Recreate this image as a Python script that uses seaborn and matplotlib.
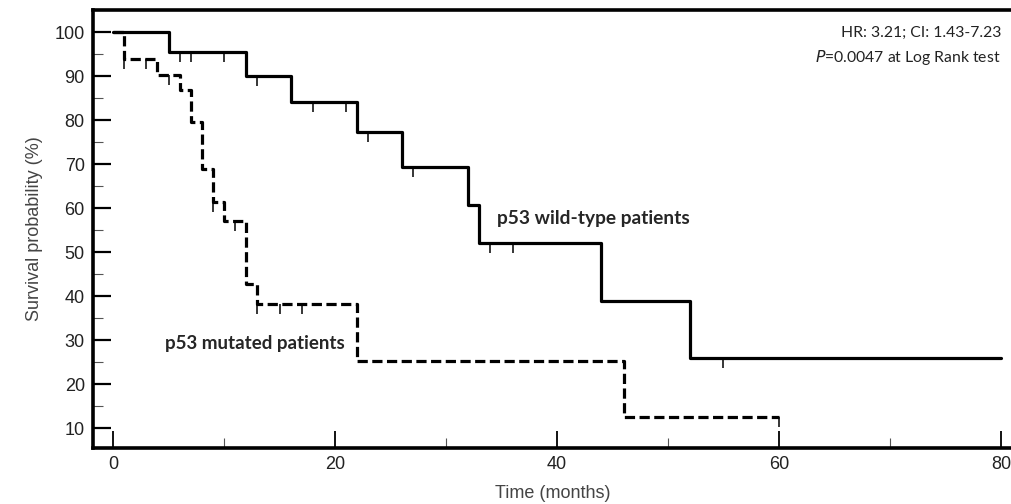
import numpy as np
import matplotlib
matplotlib.use("Agg")
import matplotlib.pyplot as plt
import seaborn as sns

# ---- data ----
# p53 wild-type (solid): step times (months) and survival (%) after each step
wt_time = [0, 5, 12, 16, 22, 26, 32, 33, 44, 52, 80]
wt_surv = [100, 95.5, 90.0, 84.2, 77.3, 69.4, 60.7, 52.0, 38.9, 26.0, 26.0]
wt_censored = [6, 7, 10, 13, 18, 21, 23, 27, 34, 36, 55]

# p53 mutated (dashed)
mt_time = [0, 1, 4, 6, 7, 8, 9, 10, 12, 13, 22, 46, 60]
mt_surv = [100, 93.8, 90.2, 86.8, 79.5, 68.8, 61.4, 57.1, 42.7, 38.2, 25.2, 12.6, 12.6]
mt_censored = [1, 3, 5, 9, 11, 13, 15, 17, 60]

y_ticks = [10, 20, 30, 40, 50, 60, 70, 80, 90, 100]
x_ticks = [0, 20, 40, 60, 80]


def level_at(times, surv, t):
    # survival level of a step curve at time t (right-continuous)
    idx = np.searchsorted(times, t, side="right") - 1
    return surv[idx]


sns.set_style("white")
plt.rcParams["font.family"] = ["Liberation Sans", "DejaVu Sans"]

fig = plt.figure(figsize=(10.12, 5.04), dpi=100)
ax = fig.add_axes([0.092, 0.111, 0.908, 0.869])

# survival curves
sns.lineplot(x=wt_time, y=wt_surv, ax=ax, color="black", lw=2.3,
             drawstyle="steps-post", estimator=None, sort=False)
sns.lineplot(x=mt_time, y=mt_surv, ax=ax, color="black", lw=2.3,
             drawstyle="steps-post", estimator=None, sort=False,
             dashes=False, linestyle=(0, (3.2, 1.4)))

# censor marks (small downward ticks)
wt_cens_y = [level_at(wt_time, wt_surv, t) for t in wt_censored]
mt_cens_y = [level_at(mt_time, mt_surv, t) for t in mt_censored]
ax.plot(wt_censored, wt_cens_y, ls="none", marker=3, ms=7.5, mew=1.1, color="black")
ax.plot(mt_censored, mt_cens_y, ls="none", marker=3, ms=7.5, mew=1.1, color="black")

# axes, ticks
ax.set_xlim(-1.8, 81)
ax.set_ylim(5.5, 105)
ax.set_xticks(x_ticks)
ax.set_xticks([10, 30, 50, 70], minor=True)
ax.set_yticks(y_ticks)
ax.set_yticks([15, 25, 35, 45, 55, 65, 75, 85, 95], minor=True)
ax.tick_params(axis="both", which="both", left=True, bottom=True)
ax.tick_params(axis="both", which="major", direction="in", length=13, width=1.6,
               labelsize=13, colors="black", labelcolor="#222222", pad=6)
ax.tick_params(axis="both", which="minor", direction="in", length=7, width=0.8,
               colors="#555555")
ax.tick_params(axis="x", which="major", length=12.5, width=1.3)

for side in ["left", "bottom", "top"]:
    ax.spines[side].set_linewidth(2.6)
    ax.spines[side].set_color("black")
ax.spines["right"].set_visible(False)

ax.set_xlabel("Time (months)", fontsize=13, color="#444444", labelpad=8)
ax.set_ylabel("Survival probability (%)", fontsize=13, color="#444444", labelpad=8)

# annotations
ax.text(34.6, 57.7, "p53 wild-type patients", fontsize=13.8, fontweight="bold",
        family=["Lato", "DejaVu Sans"], va="center", ha="left")
ax.text(4.7, 29.3, "p53 mutated patients", fontsize=13.5, fontweight="bold",
        family=["Lato", "DejaVu Sans"], va="center", ha="left")
ax.text(80.0, 99.8, "HR: 3.21; CI: 1.43-7.23", fontsize=11.3,
        family=["Lato", "DejaVu Sans"], va="center", ha="right", color="#222222")
ax.text(80.0, 94.3, r"$\it{P}$=0.0047 at Log Rank test", fontsize=11.3,
        family=["Lato", "DejaVu Sans"], va="center", ha="right", color="#222222")

fig.savefig("out.png", dpi=100, facecolor="white")
